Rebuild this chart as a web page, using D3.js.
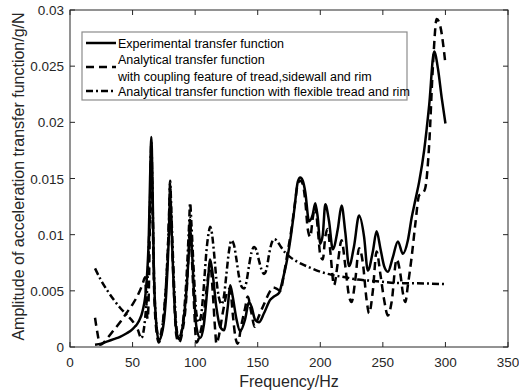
<!DOCTYPE html>
<html>
<head>
<meta charset="utf-8">
<script src="https://cdn.jsdelivr.net/npm/d3@7"></script>
<style>
  body { margin: 0; background: #fff; }
  svg { display: block; font-family: "Liberation Sans", Arial, sans-serif; }
</style>
</head>
<body>
<div id="content"></div>
<script>
// experimental transfer function (solid)
const expFreq = [20,25,30,35,40,45,50,55,58,61,63,64,65,66,67,69,71,74,77,79,80,81,83,85,87,90,93,95,96,97,99,101,104,107,110,112,114,117,120,123,126,128,130,133,136,140,143,145,148,151,155,160,163,167,170,173,176,179,182,184,186,188,191,194,196,198,200,202,204,207,210,214,217,220,223,227,231,235,238,242,245,248,251,254,258,262,266,270,273,276,279,283,287,291,294,297,300];
const expAmp = [0.0002,0.0003,0.0005,0.0007,0.0009,0.0012,0.0016,0.0023,0.0032,0.0055,0.010,0.015,0.0187,0.014,0.007,0.002,0.0006,0.0015,0.005,0.010,0.0135,0.011,0.005,0.0015,0.0007,0.0018,0.005,0.0085,0.0105,0.0095,0.005,0.0018,0.0008,0.002,0.0055,0.0078,0.0065,0.0035,0.0018,0.0015,0.0035,0.0055,0.0045,0.0025,0.0014,0.0025,0.004,0.0036,0.0024,0.0022,0.003,0.0042,0.0045,0.0048,0.006,0.0075,0.0095,0.012,0.0147,0.0151,0.0148,0.0138,0.0112,0.0118,0.0128,0.0115,0.0092,0.0100,0.0127,0.0112,0.0087,0.0105,0.0126,0.0102,0.0072,0.009,0.0117,0.0098,0.0068,0.0085,0.0103,0.0088,0.0072,0.0067,0.0080,0.0094,0.0083,0.0095,0.0115,0.0131,0.0147,0.0175,0.0215,0.0263,0.0248,0.0222,0.0199];

// analytical, coupling of tread, sidewall and rim (dashed)
const coupFreq = [20,22,24,27,30,35,40,45,50,55,58,60,61,62,63,64,65,66,67,69,71,74,77,79,80,81,83,85,87,90,93,95,96,97,99,101,104,107,110,112,114,116,117,119,122,126,128,130,132,134,137,140,142,145,147.5,150,155,160,162,165,168,171,174,177,180,182,184,186,188,190,192,194,196,198,200,202,204,206,208,211,214,217,220,223,225,228,231,234,237,239,242,245,248,251,254,257,261,264,266,268,270,273,276,279,282,284,287,290,293,296,300];
const coupAmp = [0.0026,0.0012,0.0002,0.0004,0.0008,0.0015,0.0022,0.003,0.0038,0.0048,0.0056,0.0062,0.004,0.0025,0.005,0.012,0.0175,0.012,0.006,0.0015,0.0004,0.002,0.006,0.011,0.0145,0.011,0.005,0.001,0.0004,0.0015,0.0045,0.009,0.0115,0.009,0.004,0.0004,0.0012,0.003,0.006,0.0075,0.005,0.0015,0.0003,0.001,0.003,0.005,0.0052,0.003,0.001,0.0003,0.002,0.0035,0.0045,0.003,0.0018,0.0025,0.0038,0.005,0.0053,0.0052,0.005,0.0065,0.0085,0.0105,0.013,0.0145,0.0148,0.0145,0.013,0.0105,0.0098,0.0115,0.0125,0.0105,0.0082,0.0078,0.0098,0.0105,0.0085,0.0055,0.0075,0.0095,0.0072,0.0045,0.004,0.006,0.0088,0.0075,0.0042,0.003,0.005,0.0085,0.0065,0.0042,0.0028,0.004,0.0078,0.0065,0.0048,0.004,0.0055,0.008,0.011,0.0135,0.0137,0.0142,0.018,0.025,0.0292,0.0285,0.0252];

// analytical, flexible tread and rim (dash-dot)
const flexFreq = [20,25,30,35,40,45,50,54,57,60,62,64,65,66,67,69,71,74,77,79,80,81,83,85,87,90,93,95,96,97,99,101,103,105,107,109,111,112,113,115,117,119,121,123,125,127,129,131,133,135,137,139,141,143,145,147,149,151,153,155,157,159,161,163,165,168,172,176,180,185,191,200,210,220,230,240,250,260,270,285,300];
const flexAmp = [0.0070,0.0059,0.0050,0.0042,0.0035,0.0029,0.0023,0.0016,0.0008,0.0025,0.006,0.013,0.0182,0.013,0.007,0.002,0.0008,0.002,0.006,0.011,0.0148,0.012,0.006,0.0018,0.0008,0.002,0.006,0.0105,0.0128,0.011,0.0065,0.003,0.0022,0.003,0.0055,0.0085,0.0103,0.0107,0.0104,0.0085,0.006,0.0044,0.0038,0.0045,0.0065,0.0085,0.0095,0.0091,0.0078,0.0063,0.0054,0.0052,0.0058,0.0072,0.0084,0.0089,0.0086,0.0077,0.0069,0.0065,0.0069,0.0082,0.0092,0.0096,0.0095,0.0090,0.0084,0.0080,0.0077,0.0074,0.0071,0.0067,0.0064,0.0062,0.0060,0.0059,0.0058,0.0057,0.00568,0.00565,0.0056];

const xTicks = [0,50,100,150,200,250,300,350];
const yTicks = [0,0.005,0.01,0.015,0.02,0.025,0.03];

const legendLabels = [
  ['Experimental transfer function'],
  ['Analytical transfer function', 'with coupling feature of tread,sidewall and rim'],
  ['Analytical transfer function with flexible tread and rim']
];

const width = 519, height = 391;
const margin = { top: 10, right: 11, bottom: 44, left: 70 };

const svg = d3.select('#content').append('svg')
  .attr('width', width).attr('height', height);

const x = d3.scaleLinear().domain([0, 350]).range([margin.left, width - margin.right]);
const y = d3.scaleLinear().domain([0, 0.03]).range([height - margin.bottom, margin.top]);

// plot lines
const line = (fs, vs) => d3.line()
  .x((d, i) => x(fs[i]))
  .y((d, i) => y(vs[i]))
  .curve(d3.curveMonotoneX)(vs);

const series = [
  { f: expFreq, v: expAmp, dash: null },
  { f: coupFreq, v: coupAmp, dash: '8,5' },
  { f: flexFreq, v: flexAmp, dash: '7,3,2,3' }
];

const plot = svg.append('g');
series.forEach(s => {
  plot.append('path')
    .attr('d', line(s.f, s.v))
    .attr('fill', 'none')
    .attr('stroke', '#000')
    .attr('stroke-width', 2.5)
    .attr('stroke-linejoin', 'round')
    .attr('stroke-dasharray', s.dash);
});

// axes box with inward ticks
const tickLen = 5;
const ax = svg.append('g').attr('stroke', '#262626').attr('stroke-width', 1);
ax.append('rect')
  .attr('x', x(0)).attr('y', y(0.03))
  .attr('width', x(350) - x(0)).attr('height', y(0) - y(0.03))
  .attr('fill', 'none');
xTicks.forEach(t => {
  ax.append('line').attr('x1', x(t)).attr('x2', x(t)).attr('y1', y(0)).attr('y2', y(0) - tickLen);
  ax.append('line').attr('x1', x(t)).attr('x2', x(t)).attr('y1', y(0.03)).attr('y2', y(0.03) + tickLen);
});
yTicks.forEach(t => {
  ax.append('line').attr('x1', x(0)).attr('x2', x(0) + tickLen).attr('y1', y(t)).attr('y2', y(t));
  ax.append('line').attr('x1', x(350)).attr('x2', x(350) - tickLen).attr('y1', y(t)).attr('y2', y(t));
});

svg.append('g').selectAll('text').data(xTicks).join('text')
  .attr('x', d => x(d)).attr('y', y(0) + 20)
  .attr('text-anchor', 'middle')
  .style('font-size', '13.5px').style('fill', '#262626')
  .text(d => d);

svg.append('g').selectAll('text').data(yTicks).join('text')
  .attr('x', x(0) - 6).attr('y', d => y(d) + 5)
  .attr('text-anchor', 'end')
  .style('font-size', '13.5px').style('fill', '#262626')
  .text(d => d === 0 ? '0' : String(+d.toFixed(3)));

svg.append('text')
  .attr('x', (x(0) + x(350)) / 2).attr('y', 387)
  .attr('text-anchor', 'middle')
  .style('font-size', '16px').style('fill', '#262626')
  .text('Frequency/Hz');

svg.append('text')
  .attr('transform', `translate(24, ${(y(0) + y(0.03)) / 2 - 2}) rotate(-90)`)
  .attr('text-anchor', 'middle')
  .style('font-size', '16px').style('fill', '#262626')
  .text('Amplitude of acceleration transfer function/g/N');

// legend
const lg = svg.append('g');
lg.append('rect')
  .attr('x', 82).attr('y', 32).attr('width', 325).attr('height', 68)
  .attr('fill', '#fff').attr('stroke', '#8c8c8c').attr('stroke-width', 1.2);
const rowY = [43, 67, 91];
const textY = [[43], [59, 76], [91]];
series.forEach((s, i) => {
  lg.append('line')
    .attr('x1', 86).attr('x2', 116).attr('y1', rowY[i]).attr('y2', rowY[i])
    .attr('stroke', '#000').attr('stroke-width', 2.5)
    .attr('stroke-dasharray', s.dash);
  legendLabels[i].forEach((t, j) => {
    lg.append('text')
      .attr('x', 118).attr('y', textY[i][j] + 4.5)
      .style('font-size', '12.5px').style('fill', '#000')
      .text(t);
  });
});
</script>
</body>
</html>
